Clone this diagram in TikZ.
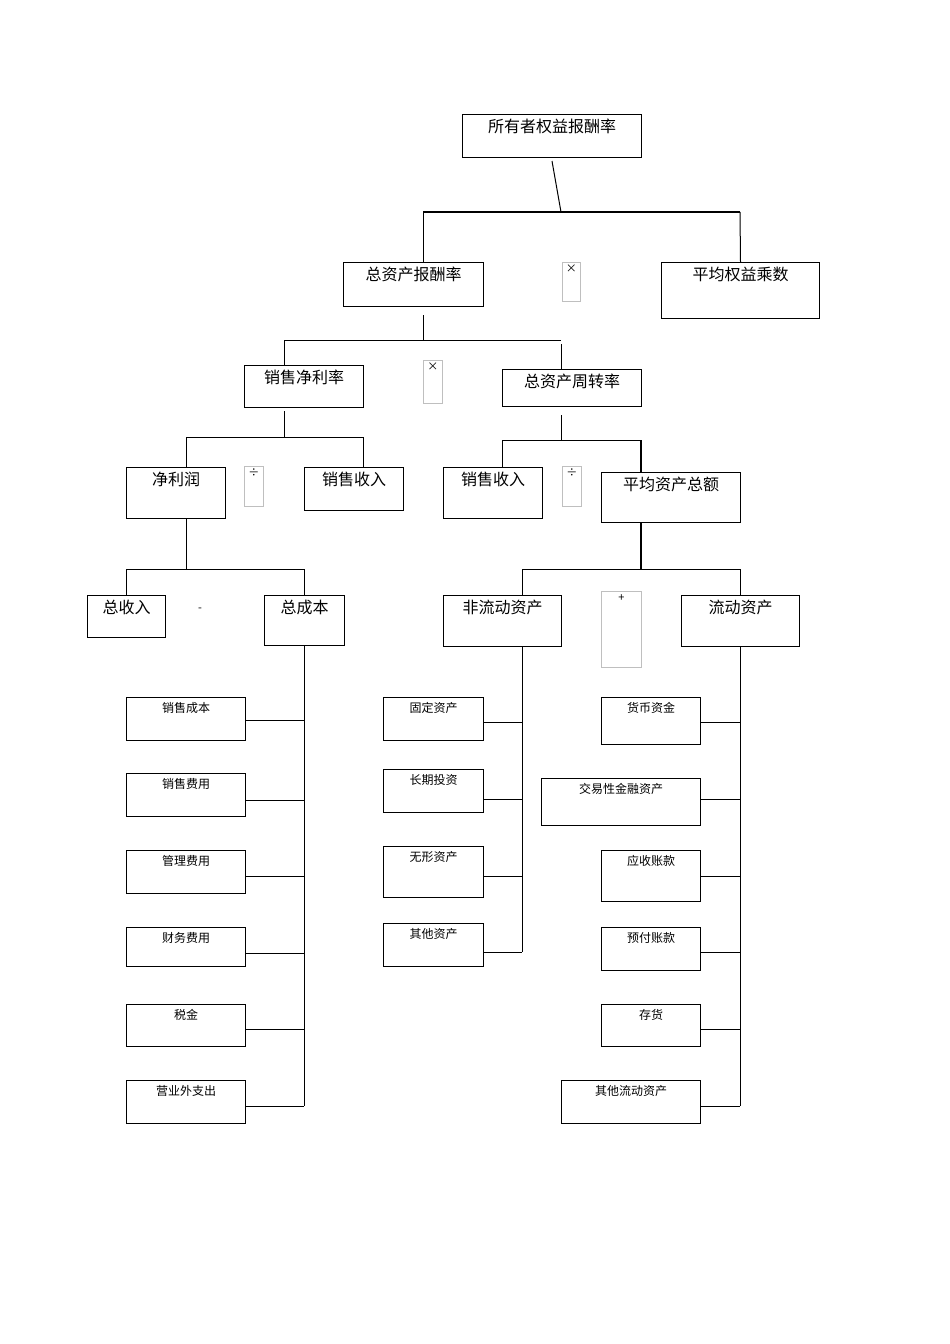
\documentclass[tikz,border=0pt]{standalone}
\usepackage{fontspec}
\setmainfont{Noto Sans CJK SC}
\begin{document}
\begin{tikzpicture}[x=1pt,y=-1pt,
  box/.style={draw,line width=1pt,inner sep=0pt,anchor=north west},
  op/.style={draw=black!25,line width=0.6pt,inner sep=0pt,anchor=north west},
  ln/.style={line width=1pt},
  big/.style={font=\fontsize{16}{16}\selectfont},
  sm/.style={font=\fontsize{12}{12}\selectfont}]
\fill[white] (0,0) rectangle (950,1344);
\useasboundingbox (0,0) rectangle (950,1344);
\newcommand\bx[7]{\node[box,minimum width=#4pt,minimum height=#5pt,
  label={[anchor=north,inner sep=0pt,yshift=-5pt,#6]north:#7}] (#1) at (#2,#3) {};}
\newcommand\opx[6]{\node[op,minimum width=#4pt,minimum height=#5pt,
  label={[anchor=north,inner sep=0pt,yshift=-3pt,font=\fontsize{11}{11}\selectfont]north:#6}] (#1) at (#2,#3) {};}
% top levels
\bx{roe}{462}{114}{179}{43}{big}{所有者权益报酬率}
\bx{roa}{343}{262}{140}{44}{big}{总资产报酬率}
\opx{m1}{562}{262}{18}{39}{×}
\bx{em}{661}{262}{158}{56}{big}{平均权益乘数}
\bx{npm}{244}{365}{119}{42}{big}{销售净利率}
\opx{m2}{423}{360}{19}{43}{×}
\bx{tat}{502}{369}{139}{37}{big}{总资产周转率}
\bx{np}{126}{467}{99}{51}{big}{净利润}
\opx{d1}{244}{466}{19}{40}{÷}
\bx{sr1}{304}{467}{99}{43}{big}{销售收入}
\bx{sr2}{443}{467}{99}{51}{big}{销售收入}
\opx{d2}{562}{466}{19}{40}{÷}
\bx{ta}{601}{472}{139}{50}{big}{平均资产总额}
\bx{tr}{87}{595}{78}{42}{big}{总收入}
\node[font=\fontsize{11}{11}\selectfont] (minus) at (200,610) {-};
\bx{tc}{264}{595}{80}{50}{big}{总成本}
\bx{nca}{443}{595}{118}{51}{big}{非流动资产}
\opx{pl}{601}{591}{40}{76}{+}
\bx{ca}{681}{595}{118}{51}{big}{流动资产}
% tree connectors
\coordinate (j1) at (561,212);
\draw[ln] (roe.south) ++(0,3) -- (j1);
\draw[line width=1.6pt] (423,212) -- (740,212);
\draw[ln] (423,212) -- (roa.north -| 423,0);
\draw[ln] (740,212) -- (em.north);
\draw[ln] (423,315) -- (423,340);
\draw[ln] (284,340) -- (561,340);
\draw[ln] (284,340) -- (npm.north -| 284,0);
\draw[ln] (561,344) -- (tat.north -| 561,0);
\draw[ln] (284,411) -- (284,437);
\draw[ln] (186,437) -- (363,437);
\draw[ln] (186,437) -- (np.north -| 186,0);
\draw[ln] (363,437) -- (sr1.north -| 363,0);
\draw[ln] (561,415) -- (561,440);
\draw[ln] (502,440) -- (641,440);
\draw[ln] (502,440) -- (sr2.north -| 502,0);
\draw[line width=1.4pt] (641,440) -- (ta.north -| 641,0);
\draw[ln] (186,518) -- (186,569);
\draw[ln] (126,569) -- (304,569);
\draw[ln] (126,569) -- (tr.north -| 126,0);
\draw[ln] (304,569) -- (tc.north -| 304,0);
\draw[line width=1.4pt] (641,522) -- (641,569);
\draw[ln] (522,569) -- (740,569);
\draw[ln] (522,569) -- (nca.north -| 522,0);
\draw[ln] (740,569) -- (ca.north -| 740,0);
% lower lists
\bx{c1}{126}{697}{119}{43}{sm}{销售成本}
\bx{c2}{126}{773}{119}{43}{sm}{销售费用}
\bx{c3}{126}{850}{119}{43}{sm}{管理费用}
\bx{c4}{126}{927}{119}{39}{sm}{财务费用}
\bx{c5}{126}{1004}{119}{42}{sm}{税金}
\bx{c6}{126}{1080}{119}{43}{sm}{营业外支出}
\draw[ln] (tc.south -| 304,0) -- (304,1106);
\foreach \n/\y in {c1/720,c2/800,c3/876,c4/953,c5/1029,c6/1106}
  \draw[ln] (\n.east |- 0,\y) -- (304,\y);
\bx{n1}{383}{697}{100}{43}{sm}{固定资产}
\bx{n2}{383}{769}{100}{43}{sm}{长期投资}
\bx{n3}{383}{846}{100}{51}{sm}{无形资产}
\bx{n4}{383}{923}{100}{43}{sm}{其他资产}
\draw[ln] (nca.south -| 522,0) -- (522,952);
\foreach \n/\y in {n1/722,n2/799,n3/876,n4/952}
  \draw[ln] (\n.east |- 0,\y) -- (522,\y);
\bx{a1}{601}{697}{99}{47}{sm}{货币资金}
\bx{a2}{541}{778}{159}{47}{sm}{交易性金融资产}
\bx{a3}{601}{850}{99}{51}{sm}{应收账款}
\bx{a4}{601}{927}{99}{43}{sm}{预付账款}
\bx{a5}{601}{1004}{99}{42}{sm}{存货}
\bx{a6}{561}{1080}{139}{43}{sm}{其他流动资产}
\draw[ln] (ca.south -| 740,0) -- (740,1106);
\foreach \n/\y in {a1/722,a2/799,a3/876,a4/952,a5/1029,a6/1106}
  \draw[ln] (\n.east |- 0,\y) -- (740,\y);
\end{tikzpicture}
\end{document}
